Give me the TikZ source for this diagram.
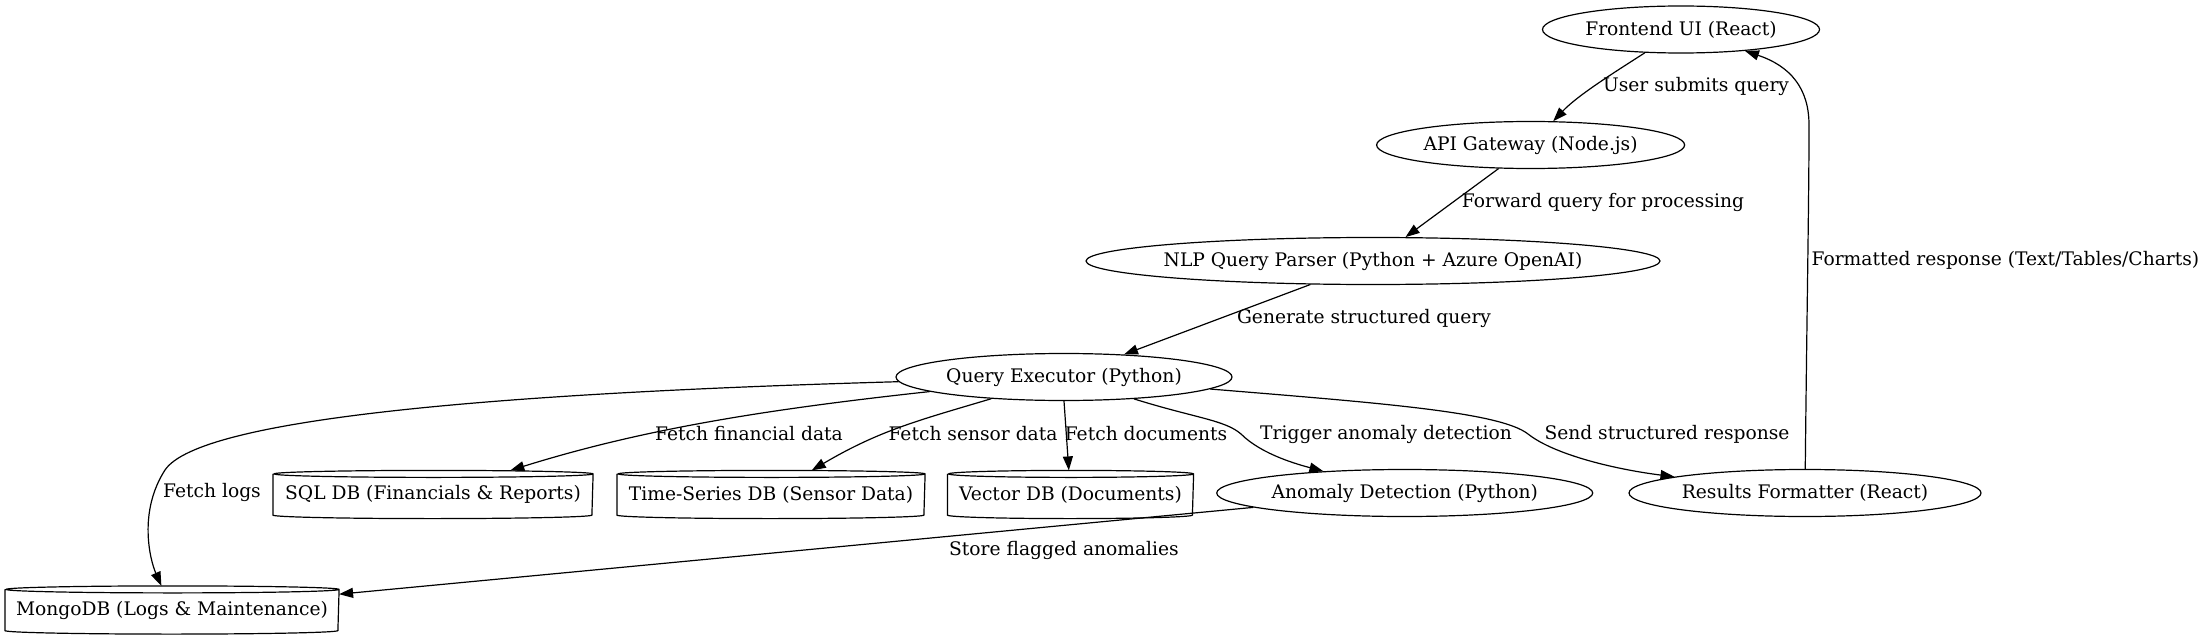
\documentclass[tikz,border=0pt]{standalone}
\usepackage{fontspec}
\setmainfont{DejaVu Serif}
\usetikzlibrary{shapes.geometric,arrows.meta}

\begin{document}
\begin{tikzpicture}[x=1pt,y=-1pt,
    font=\fontsize{18.67}{22}\selectfont,
    line width=1.2pt,
    proc/.style={ellipse,draw,inner sep=0pt,minimum height=47pt,
      execute at begin node={\hbox to 0pt\bgroup\hss},
      execute at end node={\hss\egroup}},
    store/.style={rectangle,inner sep=0pt,minimum height=47pt,
      execute at begin node={\hbox to 0pt\bgroup\hss},
      execute at end node={\hss\egroup}},
    lbl/.style={inner sep=0pt},
    flow/.style={-{Triangle[length=14pt,width=10pt]}}]
    \useasboundingbox (0,0) rectangle (2207,639);

    \node[proc,minimum width=277pt] (front) at (1681,29.5) {Frontend UI (React)};
    \node[proc,minimum width=308pt] (api) at (1530.6,145) {API Gateway (Node.js)};
    \node[proc,minimum width=574pt] (nlp) at (1373,261) {NLP Query Parser (Python + Azure OpenAI)};
    \node[proc,minimum width=336pt] (qexec) at (1064,377) {Query Executor (Python)};
    \node[proc,minimum width=376pt] (anomaly) at (1404.7,493) {Anomaly Detection (Python)};
    \node[proc,minimum width=352pt] (results) at (1805,493) {Results Formatter (React)};
    \node[store,minimum width=319pt] (sqldb) at (433,494.5) {SQL DB (Financials \& Reports)};
    \node[store,minimum width=307pt] (tsdb) at (771,494.5) {Time-Series DB (Sensor Data)};
    \node[store,minimum width=245pt] (vecdb) at (1070.5,494.5) {Vector DB (Documents)};
    \node[store,minimum width=333pt] (mongo) at (172,610) {MongoDB (Logs \& Maintenance)};
    \foreach \n/\w in {sqldb/319,tsdb/307,vecdb/245,mongo/333}
    \draw ([yshift=-3.5pt]\n.north west) -- ([yshift=3.5pt]\n.south west)
      arc[start angle=180,end angle=360,x radius={0.5*\w pt},y radius=3.5pt]
      -- ([yshift=-3.5pt]\n.north east)
      arc[start angle=0,end angle=360,x radius={0.5*\w pt},y radius=3.5pt];

    \node[lbl] (lsubmit) at (1696,86) {User submits query};
    \node[lbl] (lforward) at (1603,202) {Forward query for processing};
    \node[lbl] (lgenerate) at (1364,318) {Generate structured query};
    \node[lbl,anchor=west] (lformatted) at (1811,260) {Formatted response (Text/Tables/Charts)};
    \node[lbl] (lsend) at (1667,434) {Send structured response};
    \node[lbl] (ltrigger) at (1386,434) {Trigger anomaly detection};
    \node[lbl] (ldocs) at (1146,434) {Fetch documents};
    \node[lbl] (lsensor) at (973,434) {Fetch sensor data};
    \node[lbl] (lfinance) at (749,434) {Fetch financial data};
    \node[lbl] (llogs) at (212,492) {Fetch logs};
    \node[lbl] (lstore) at (1064,550) {Store flagged anomalies};

    \draw[flow] (front) .. controls (1615,72) and (1578,95) .. (api);
    \draw[flow] (api) -- (nlp);
    \draw[flow] (nlp) -- (qexec);
    \draw[flow] (qexec) .. controls (1380,403) and (1500,412) .. (1528,434)
      .. controls (1556,456) and (1620,470) .. (results);
    \draw[flow] (results) .. controls (1807,300) and (1809,200) .. (1809,125)
      .. controls (1809,88) and (1790,66) .. (front);
    \draw[flow] (qexec) .. controls (1195,418) and (1225,420) .. (1241,434)
      .. controls (1262,455) and (1300,465) .. (anomaly);
    \draw[flow] (qexec.south) -- (vecdb);
    \draw[flow] (qexec) .. controls (920,420) and (880,430) .. (tsdb);
    \draw[flow] (qexec) .. controls (760,410) and (640,430) .. (sqldb);
    \draw[flow] (qexec) .. controls (500,393) and (200,418) .. (165,470)
      .. controls (138,512) and (150,560) .. (mongo);
    \draw[flow] (anomaly) -- (mongo);
  \end{tikzpicture}
\end{document}
